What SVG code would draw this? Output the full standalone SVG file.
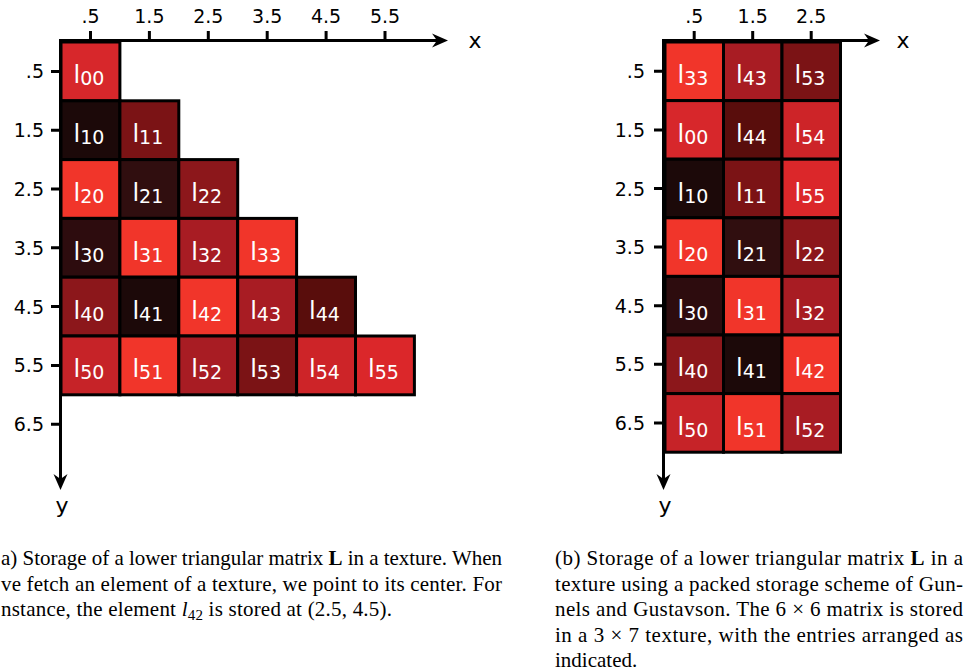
<svg xmlns="http://www.w3.org/2000/svg" width="966" height="671" viewBox="0 0 966 671">
<defs>
<style>
.cell{stroke:#000;stroke-width:3}
.lab{font-family:"DejaVu Sans",sans-serif;fill:#fff}
.big{font-size:24px}
.sub{font-size:19px}
.tick{font-family:"DejaVu Sans",sans-serif;font-size:19px;fill:#000}
.axl{font-family:"DejaVu Sans",sans-serif;font-size:22px;fill:#000}
.ax{stroke:#000;stroke-width:3;fill:none}
.cap{font-family:"Liberation Serif","Times New Roman",serif;font-size:21px;fill:#000}
.c0{fill:#d7272b}.cb{fill:#f1352a}.c55{fill:#db272a}.c54{fill:#cd2428}.c50{fill:#c62328}
.cm{fill:#a81c23}.c22{fill:#8c171b}.c11{fill:#7b1315}.c44{fill:#590d0c}
.c21{fill:#300e0f}.c30{fill:#2d0c0e}.c10{fill:#1c0909}
</style>
<marker id="arr" markerUnits="userSpaceOnUse" markerWidth="16" markerHeight="14" refX="5" refY="7" orient="auto" overflow="visible">
<path d="M0,0 L16,7 L0,14 L5,7 Z" fill="#000"/>
</marker>
</defs>
<rect width="966" height="671" fill="#fff"/>

<!-- Left texture -->
<g id="left-cells">
<g id="L00"><rect class="cell c0" x="61" y="42" width="58.9" height="58.8"/><text class="lab" x="73.5" y="83.4"><tspan class="big">l</tspan><tspan class="sub" dy="2">00</tspan></text></g>
<g id="L10"><rect class="cell c10" x="61" y="100.8" width="58.9" height="58.8"/><text class="lab" x="73.5" y="142.2"><tspan class="big">l</tspan><tspan class="sub" dy="2">10</tspan></text></g>
<g id="L11"><rect class="cell c11" x="119.9" y="100.8" width="58.9" height="58.8"/><text class="lab" x="132.4" y="142.2"><tspan class="big">l</tspan><tspan class="sub" dy="2">11</tspan></text></g>
<g id="L20"><rect class="cell cb" x="61" y="159.6" width="58.9" height="58.8"/><text class="lab" x="73.5" y="201"><tspan class="big">l</tspan><tspan class="sub" dy="2">20</tspan></text></g>
<g id="L21"><rect class="cell c21" x="119.9" y="159.6" width="58.9" height="58.8"/><text class="lab" x="132.4" y="201"><tspan class="big">l</tspan><tspan class="sub" dy="2">21</tspan></text></g>
<g id="L22"><rect class="cell c22" x="178.8" y="159.6" width="58.9" height="58.8"/><text class="lab" x="191.3" y="201"><tspan class="big">l</tspan><tspan class="sub" dy="2">22</tspan></text></g>
<g id="L30"><rect class="cell c30" x="61" y="218.4" width="58.9" height="58.8"/><text class="lab" x="73.5" y="259.8"><tspan class="big">l</tspan><tspan class="sub" dy="2">30</tspan></text></g>
<g id="L31"><rect class="cell cb" x="119.9" y="218.4" width="58.9" height="58.8"/><text class="lab" x="132.4" y="259.8"><tspan class="big">l</tspan><tspan class="sub" dy="2">31</tspan></text></g>
<g id="L32"><rect class="cell cm" x="178.8" y="218.4" width="58.9" height="58.8"/><text class="lab" x="191.3" y="259.8"><tspan class="big">l</tspan><tspan class="sub" dy="2">32</tspan></text></g>
<g id="L33"><rect class="cell cb" x="237.7" y="218.4" width="58.9" height="58.8"/><text class="lab" x="250.2" y="259.8"><tspan class="big">l</tspan><tspan class="sub" dy="2">33</tspan></text></g>
<g id="L40"><rect class="cell c22" x="61" y="277.2" width="58.9" height="58.8"/><text class="lab" x="73.5" y="318.6"><tspan class="big">l</tspan><tspan class="sub" dy="2">40</tspan></text></g>
<g id="L41"><rect class="cell c10" x="119.9" y="277.2" width="58.9" height="58.8"/><text class="lab" x="132.4" y="318.6"><tspan class="big">l</tspan><tspan class="sub" dy="2">41</tspan></text></g>
<g id="L42"><rect class="cell cb" x="178.8" y="277.2" width="58.9" height="58.8"/><text class="lab" x="191.3" y="318.6"><tspan class="big">l</tspan><tspan class="sub" dy="2">42</tspan></text></g>
<g id="L43"><rect class="cell cm" x="237.7" y="277.2" width="58.9" height="58.8"/><text class="lab" x="250.2" y="318.6"><tspan class="big">l</tspan><tspan class="sub" dy="2">43</tspan></text></g>
<g id="L44"><rect class="cell c44" x="296.6" y="277.2" width="58.9" height="58.8"/><text class="lab" x="309.1" y="318.6"><tspan class="big">l</tspan><tspan class="sub" dy="2">44</tspan></text></g>
<g id="L50"><rect class="cell c50" x="61" y="336" width="58.9" height="58.8"/><text class="lab" x="73.5" y="377.4"><tspan class="big">l</tspan><tspan class="sub" dy="2">50</tspan></text></g>
<g id="L51"><rect class="cell cb" x="119.9" y="336" width="58.9" height="58.8"/><text class="lab" x="132.4" y="377.4"><tspan class="big">l</tspan><tspan class="sub" dy="2">51</tspan></text></g>
<g id="L52"><rect class="cell cm" x="178.8" y="336" width="58.9" height="58.8"/><text class="lab" x="191.3" y="377.4"><tspan class="big">l</tspan><tspan class="sub" dy="2">52</tspan></text></g>
<g id="L53"><rect class="cell c11" x="237.7" y="336" width="58.9" height="58.8"/><text class="lab" x="250.2" y="377.4"><tspan class="big">l</tspan><tspan class="sub" dy="2">53</tspan></text></g>
<g id="L54"><rect class="cell c54" x="296.6" y="336" width="58.9" height="58.8"/><text class="lab" x="309.1" y="377.4"><tspan class="big">l</tspan><tspan class="sub" dy="2">54</tspan></text></g>
<g id="L55"><rect class="cell c55" x="355.5" y="336" width="58.9" height="58.8"/><text class="lab" x="368" y="377.4"><tspan class="big">l</tspan><tspan class="sub" dy="2">55</tspan></text></g>
</g>

<g id="left-axes">
<path class="ax" d="M59,40.5 H437" marker-end="url(#arr)"/>
<path class="ax" d="M60.5,39 V479" marker-end="url(#arr)"/>
<path class="ax" d="M90.5,31 V40 M149.4,31 V40 M208.3,31 V40 M267.2,31 V40 M326.1,31 V40 M385,31 V40"/>
<path class="ax" d="M51,71.4 H60 M51,130.2 H60 M51,189 H60 M51,247.8 H60 M51,306.6 H60 M51,365.4 H60 M51,424.2 H60"/>
<g class="tick" text-anchor="middle">
<text x="90.5" y="23">.5</text><text x="149.4" y="23">1.5</text><text x="208.3" y="23">2.5</text><text x="267.2" y="23">3.5</text><text x="326.1" y="23">4.5</text><text x="385" y="23">5.5</text>
</g>
<g class="tick" text-anchor="end">
<text x="44" y="78.4">.5</text><text x="44" y="137.2">1.5</text><text x="44" y="196">2.5</text><text x="44" y="254.8">3.5</text><text x="44" y="313.6">4.5</text><text x="44" y="372.4">5.5</text><text x="44" y="431.2">6.5</text>
</g>
<text class="axl" x="475" y="48" text-anchor="middle">x</text>
<text class="axl" x="62" y="513" text-anchor="middle">y</text>
</g>

<!-- Right texture -->
<g id="right-cells">
<g id="R33"><rect class="cell cb" x="665" y="42" width="58.5" height="58.6"/><text class="lab" x="677.5" y="83.3"><tspan class="big">l</tspan><tspan class="sub" dy="2">33</tspan></text></g>
<g id="R43"><rect class="cell cm" x="723.5" y="42" width="58.5" height="58.6"/><text class="lab" x="736" y="83.3"><tspan class="big">l</tspan><tspan class="sub" dy="2">43</tspan></text></g>
<g id="R53"><rect class="cell c11" x="782" y="42" width="58.5" height="58.6"/><text class="lab" x="794.5" y="83.3"><tspan class="big">l</tspan><tspan class="sub" dy="2">53</tspan></text></g>
<g id="R00"><rect class="cell c0" x="665" y="100.6" width="58.5" height="58.6"/><text class="lab" x="677.5" y="141.9"><tspan class="big">l</tspan><tspan class="sub" dy="2">00</tspan></text></g>
<g id="R44"><rect class="cell c44" x="723.5" y="100.6" width="58.5" height="58.6"/><text class="lab" x="736" y="141.9"><tspan class="big">l</tspan><tspan class="sub" dy="2">44</tspan></text></g>
<g id="R54"><rect class="cell c54" x="782" y="100.6" width="58.5" height="58.6"/><text class="lab" x="794.5" y="141.9"><tspan class="big">l</tspan><tspan class="sub" dy="2">54</tspan></text></g>
<g id="R10"><rect class="cell c10" x="665" y="159.2" width="58.5" height="58.6"/><text class="lab" x="677.5" y="200.5"><tspan class="big">l</tspan><tspan class="sub" dy="2">10</tspan></text></g>
<g id="R11"><rect class="cell c11" x="723.5" y="159.2" width="58.5" height="58.6"/><text class="lab" x="736" y="200.5"><tspan class="big">l</tspan><tspan class="sub" dy="2">11</tspan></text></g>
<g id="R55"><rect class="cell c55" x="782" y="159.2" width="58.5" height="58.6"/><text class="lab" x="794.5" y="200.5"><tspan class="big">l</tspan><tspan class="sub" dy="2">55</tspan></text></g>
<g id="R20"><rect class="cell cb" x="665" y="217.8" width="58.5" height="58.6"/><text class="lab" x="677.5" y="259.1"><tspan class="big">l</tspan><tspan class="sub" dy="2">20</tspan></text></g>
<g id="R21"><rect class="cell c21" x="723.5" y="217.8" width="58.5" height="58.6"/><text class="lab" x="736" y="259.1"><tspan class="big">l</tspan><tspan class="sub" dy="2">21</tspan></text></g>
<g id="R22"><rect class="cell c22" x="782" y="217.8" width="58.5" height="58.6"/><text class="lab" x="794.5" y="259.1"><tspan class="big">l</tspan><tspan class="sub" dy="2">22</tspan></text></g>
<g id="R30"><rect class="cell c30" x="665" y="276.4" width="58.5" height="58.6"/><text class="lab" x="677.5" y="317.7"><tspan class="big">l</tspan><tspan class="sub" dy="2">30</tspan></text></g>
<g id="R31"><rect class="cell cb" x="723.5" y="276.4" width="58.5" height="58.6"/><text class="lab" x="736" y="317.7"><tspan class="big">l</tspan><tspan class="sub" dy="2">31</tspan></text></g>
<g id="R32"><rect class="cell cm" x="782" y="276.4" width="58.5" height="58.6"/><text class="lab" x="794.5" y="317.7"><tspan class="big">l</tspan><tspan class="sub" dy="2">32</tspan></text></g>
<g id="R40"><rect class="cell c22" x="665" y="335" width="58.5" height="58.6"/><text class="lab" x="677.5" y="376.3"><tspan class="big">l</tspan><tspan class="sub" dy="2">40</tspan></text></g>
<g id="R41"><rect class="cell c10" x="723.5" y="335" width="58.5" height="58.6"/><text class="lab" x="736" y="376.3"><tspan class="big">l</tspan><tspan class="sub" dy="2">41</tspan></text></g>
<g id="R42"><rect class="cell cb" x="782" y="335" width="58.5" height="58.6"/><text class="lab" x="794.5" y="376.3"><tspan class="big">l</tspan><tspan class="sub" dy="2">42</tspan></text></g>
<g id="R50"><rect class="cell c50" x="665" y="393.6" width="58.5" height="58.6"/><text class="lab" x="677.5" y="434.9"><tspan class="big">l</tspan><tspan class="sub" dy="2">50</tspan></text></g>
<g id="R51"><rect class="cell cb" x="723.5" y="393.6" width="58.5" height="58.6"/><text class="lab" x="736" y="434.9"><tspan class="big">l</tspan><tspan class="sub" dy="2">51</tspan></text></g>
<g id="R52"><rect class="cell cm" x="782" y="393.6" width="58.5" height="58.6"/><text class="lab" x="794.5" y="434.9"><tspan class="big">l</tspan><tspan class="sub" dy="2">52</tspan></text></g>
</g>

<g id="right-axes">
<path class="ax" d="M662,40.5 H869" marker-end="url(#arr)"/>
<path class="ax" d="M663.5,39 V479" marker-end="url(#arr)"/>
<path class="ax" d="M694.2,31 V40 M752.7,31 V40 M811.2,31 V40"/>
<path class="ax" d="M654,71.3 H663 M654,129.9 H663 M654,188.5 H663 M654,247.1 H663 M654,305.7 H663 M654,364.3 H663 M654,422.9 H663"/>
<g class="tick" text-anchor="middle">
<text x="694.2" y="23">.5</text><text x="752.7" y="23">1.5</text><text x="811.2" y="23">2.5</text>
</g>
<g class="tick" text-anchor="end">
<text x="645" y="78.3">.5</text><text x="645" y="136.9">1.5</text><text x="645" y="195.5">2.5</text><text x="645" y="254.1">3.5</text><text x="645" y="312.7">4.5</text><text x="645" y="371.3">5.5</text><text x="645" y="429.9">6.5</text>
</g>
<text class="axl" x="903" y="48" text-anchor="middle">x</text>
<text class="axl" x="665" y="513" text-anchor="middle">y</text>
</g>

<g id="caption-a" class="cap">
<text x="1" y="565" textLength="501" lengthAdjust="spacing">a) Storage of a lower triangular matrix <tspan font-weight="bold">L</tspan> in a texture. When</text>
<text x="1" y="590.5" textLength="501" lengthAdjust="spacing">ve fetch an element of a texture, we point to its center. For</text>
<text x="1" y="616" textLength="391" lengthAdjust="spacing">nstance, the element <tspan font-style="italic">l</tspan><tspan font-size="15" dy="4">42</tspan><tspan dy="-4"> is stored at (2.5, 4.5).</tspan></text>
</g>

<g id="caption-b" class="cap">
<text x="555" y="565" textLength="408" lengthAdjust="spacing">(b) Storage of a lower triangular matrix <tspan font-weight="bold">L</tspan> in a</text>
<text x="555" y="590.5" textLength="408" lengthAdjust="spacing">texture using a packed storage scheme of Gun-</text>
<text x="555" y="616" textLength="408" lengthAdjust="spacing">nels and Gustavson. The 6 × 6 matrix is stored</text>
<text x="555" y="641.5" textLength="408" lengthAdjust="spacing">in a 3 × 7 texture, with the entries arranged as</text>
<text x="555" y="667">indicated.</text>
</g>
</svg>
